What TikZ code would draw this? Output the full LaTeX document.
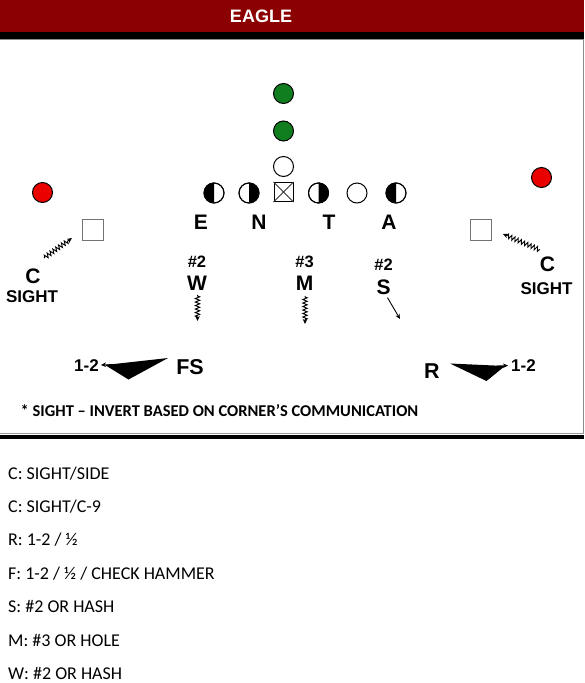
\documentclass[tikz,border=0pt]{standalone}
\usepackage{fontspec}
\setmainfont{Liberation Sans}
\newfontfamily\calfont{Carlito}
\usetikzlibrary{arrows.meta,decorations.pathmorphing}
\definecolor{hdr}{RGB}{139,0,0}
\definecolor{grn}{RGB}{16,125,30}
\definecolor{rd}{RGB}{235,0,0}
\begin{document}
\begin{tikzpicture}[x=1pt,y=-1pt,
  player/.style={circle,draw=black,line width=1pt,minimum size=20pt,inner sep=0pt},
  sq/.style={rectangle,draw=black!55,line width=1pt,minimum size=21pt,inner sep=0pt},
  lbig/.style={font=\bfseries\fontsize{21}{23}\selectfont,inner sep=0pt},
  lfs/.style={font=\bfseries\fontsize{21.5}{23}\selectfont,inner sep=0pt},
  lmid/.style={font=\bfseries\fontsize{17}{19}\selectfont,inner sep=0pt},
  lsmall/.style={font=\bfseries\fontsize{16.5}{18}\selectfont,inner sep=0pt},
  listtxt/.style={font=\calfont\fontsize{18}{20}\selectfont,anchor=west,inner sep=0pt},
  zz/.style={decorate,decoration={zigzag,segment length=3.5pt,amplitude=2.2pt,pre length=1pt,post length=4pt},line width=0.9pt},
  tip/.style={-{Stealth[length=5pt,width=4.5pt]}},
]
\useasboundingbox (0,0) rectangle (584,683);
% header
\fill[hdr] (0,0) rectangle (584,32);
\fill[black] (0,32) rectangle (584,39);
\draw[black!45,line width=1pt] (0,39.5) -- (584,39.5);
\node[font=\bfseries\fontsize{18}{20}\selectfont,text=white] (title) at (261,16) {EAGLE};
\draw[black!45,line width=1pt] (583,40) -- (583,433);
\draw[black!40,line width=1pt] (0,433) -- (584,433);
\fill[black] (0,434.5) rectangle (584,439);
% offense backfield
\node[player,fill=grn] (g1) at (283.5,93.5) {};
\node[player,fill=grn] (g2) at (283.5,131) {};
\node[player] (qb) at (283.5,166.5) {};
% line
\node[player] (p1) at (214,193) {};
\fill[black] (p1.north) arc[start angle=90,end angle=270,radius=10pt] -- cycle;
\node[player] (p2) at (249,193) {};
\fill[black] (p2.north) arc[start angle=90,end angle=-90,radius=10pt] -- cycle;
\node[rectangle,draw=black,line width=1pt,minimum size=19pt,inner sep=0pt] (ctr) at (283.5,192) {};
\draw[black!80,line width=0.8pt] (ctr.north west) -- (ctr.south east) (ctr.north east) -- (ctr.south west);
\node[player] (p4) at (318.5,193) {};
\fill[black] (p4.north) arc[start angle=90,end angle=-90,radius=10pt] -- cycle;
\node[player] (p5) at (357,193) {};
\node[player] (p6) at (396,193) {};
\fill[black] (p6.north) arc[start angle=90,end angle=270,radius=10pt] -- cycle;
\foreach \n in {p1,p2,p4,p6} \draw[line width=1pt] (\n) circle[radius=10pt];
% wide receivers
\node[player,fill=rd] (wl) at (42.5,192.5) {};
\node[player,fill=rd] (wr) at (541.5,177.5) {};
\node[sq] (sl) at (92.5,229.5) {};
\node[sq] (sr) at (481,230) {};
% defensive line labels
\node[lbig] (E) at (201,222) {E};
\node[lbig] (N) at (259,222) {N};
\node[lbig] (T) at (329,222) {T};
\node[lbig] (A) at (389,222) {A};
% corners
\node[lbig] (cl) at (33,276) {C};
\node[lmid] (sgl) at (32,297) {SIGHT};
\node[lbig] (cr) at (547.5,264) {C};
\node[lmid] (sgr) at (546.5,288.5) {SIGHT};
\coordinate (clend) at (72,238);
\coordinate (crend) at (503,234);
\draw[zz,tip] (44,258) -- (clend);
\draw[zz,tip] (540,250) -- (crend);
% linebackers
\node[lsmall] (n2a) at (197,262) {\#2};
\node[lbig] (W) at (197,283.5) {W};
\node[lsmall] (n3) at (304.5,262) {\#3};
\node[lbig] (M) at (304.5,283.5) {M};
\node[lsmall] (n2b) at (383.5,265) {\#2};
\node[lbig] (S) at (383.5,287) {S};
\coordinate (wend) at (197.5,321);
\coordinate (mend) at (305,324);
\coordinate (send) at (400,319);
\draw[zz,tip] (W.south) ++(0.5,4) -- (wend);
\draw[zz,tip] (M.south) ++(0.5,5) -- (mend);
\draw[tip,line width=0.9pt] (S.south) ++(4,3) -- (send);
% safeties
\node[lfs] (FS) at (190,367) {FS};
\node[lmid] (l12) at (86.5,365.5) {1-2};
\fill[black] (168,358) -- (105,365) -- (128.5,379.5) -- cycle;
\coordinate (fstip) at (101,365);
\draw[tip,line width=0.8pt] (112,364.5) -- (fstip);
\node[lfs] (R) at (432,371) {R};
\node[lmid] (r12) at (523.5,365.5) {1-2};
\fill[black] (450,363.5) -- (505,366) -- (486.5,381) -- cycle;
\coordinate (rtip) at (508,365.5);
\draw[tip,line width=0.8pt] (497,366) -- (rtip);
% note
\node[font=\calfont\bfseries\fontsize{16.5}{19}\selectfont,anchor=west,inner sep=0pt] (note) at (20.5,411) {* SIGHT – INVERT BASED ON CORNER’S COMMUNICATION};
% list
\node[listtxt] (i1) at (8,473.5) {C: SIGHT/SIDE};
\node[listtxt] (i2) at (8,506.8) {C: SIGHT/C-9};
\node[listtxt] (i3) at (8,540.1) {R: 1-2 / ½};
\node[listtxt] (i4) at (8,573.4) {F: 1-2 / ½ / CHECK HAMMER};
\node[listtxt] (i5) at (8,606.7) {S: \#2 OR HASH};
\node[listtxt] (i6) at (8,640) {M: \#3 OR HOLE};
\node[listtxt] (i7) at (8,673.3) {W: \#2 OR HASH};
\end{tikzpicture}
\end{document}
